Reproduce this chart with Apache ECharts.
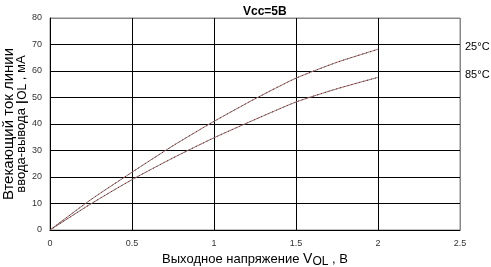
<!DOCTYPE html>
<html><head><meta charset="utf-8">
<script src="https://cdn.jsdelivr.net/npm/echarts@6/dist/echarts.min.js"></script>
<style>html,body{margin:0;padding:0;background:#fff}#c{width:491px;height:267px}</style>
</head><body><div id="c"></div>
<script>
const voltages = [0, 0.25, 0.5, 0.75, 1, 1.25, 1.5, 1.75, 2];
const current25 = [0, 11.5, 21.8, 31.8, 41, 49.5, 57.3, 63.3, 68.2];
const current85 = [0, 9.9, 19, 27.2, 34.8, 41.7, 48.3, 53.3, 57.6];
const seriesNames = ['25°C', '85°C'];
const title = 'Vcc=5В';

const pairs = (ys) => voltages.map((x, i) => [x, ys[i]]);
const font = 'Liberation Sans, Arial, sans-serif';

function mk(name, ys) {
  return [
    { type: 'line', data: pairs(ys), showSymbol: false, smooth: 0.2, silent: true,
      lineStyle: { color: '#777', width: 1 },
      endLabel: { show: true, formatter: name, color: '#000', fontSize: 11, fontFamily: font, offset: [79, -2] } },
    { type: 'line', data: pairs(ys), showSymbol: false, smooth: 0.2, silent: true,
      lineStyle: { color: '#c00000', width: 1, type: [1, 3] } }
  ];
}

const chart = echarts.init(document.getElementById('c'));
chart.setOption({
  animation: false,
  title: { text: title, left: 238, top: 1, textStyle: { fontSize: 12, fontWeight: 'bold', fontFamily: font, color: '#000' } },
  grid: { left: 50, right: 31, top: 18, bottom: 37, show: true, borderColor: '#888', borderWidth: 1, containLabel: false, outerBoundsMode: 'none' },
  xAxis: {
    type: 'value', min: 0, max: 2.5, interval: 0.5,
    axisLine: { lineStyle: { color: '#000' } }, axisTick: { show: false },
    axisLabel: { fontSize: 9, color: '#333', fontFamily: font, margin: 9 },
    splitLine: { lineStyle: { color: ['#000','#000','#000','#000','#000','#888'], width: 1 } },
    name: '{s|Выходное напряжение }{s2|V}{sub|OL}{s| , В}', nameLocation: 'middle', nameGap: 20, nameMoveOverlap: false,
    nameTextStyle: { fontFamily: font, color: '#000', fontSize: 13, rich: {
      s: { fontSize: 13, fontFamily: font, color: '#000' },
      s2: { fontSize: 14, fontFamily: font, color: '#000' },
      sub: { fontSize: 12, fontFamily: font, color: '#000', padding: [6, 0, 0, 0] } } }
  },
  yAxis: {
    type: 'value', min: 0, max: 80, interval: 10,
    axisLine: { show: true, lineStyle: { color: '#000' } }, axisTick: { show: false },
    axisLabel: { fontSize: 9, color: '#333', fontFamily: font, margin: 8 },
    splitLine: { lineStyle: { color: ['#000','#000','#000','#000','#000','#000','#000','#000','#888'], width: 1 } },
    name: '{a|Втекающий ток линии}\n{s|ввода-вывода }{s2|I}{sub|OL}{s| , мА}', nameLocation: 'middle', nameRotate: 90, nameGap: 22, nameMoveOverlap: false,
    nameTextStyle: { fontFamily: font, color: '#000', lineHeight: 13, rich: {
      a: { fontSize: 15, fontFamily: font, color: '#000', lineHeight: 13 },
      s: { fontSize: 13, fontFamily: font, color: '#000', lineHeight: 13 },
      s2: { fontSize: 17, fontFamily: font, color: '#000', lineHeight: 13, padding: [3, 0, 0, 0] },
      sub: { fontSize: 12, fontFamily: font, color: '#000', lineHeight: 13, padding: [2, 0, 0, 0] } } }
  },
  series: [...mk(seriesNames[0], current25), ...mk(seriesNames[1], current85)]
});
</script></body></html>
